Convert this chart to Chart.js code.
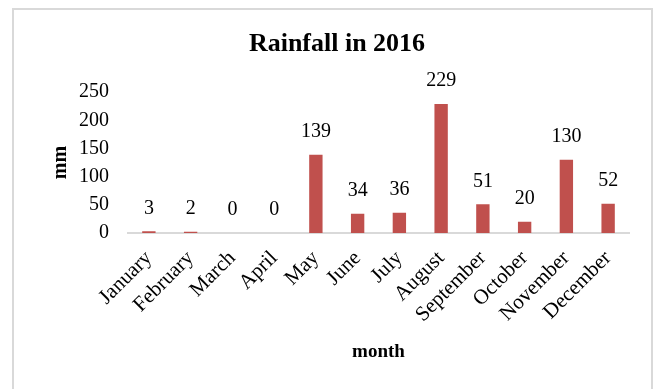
<!DOCTYPE html>
<html>
<head>
<meta charset="utf-8">
<title>Rainfall in 2016</title>
<script src="https://cdn.jsdelivr.net/npm/chart.js@4.4.1/dist/chart.umd.min.js"></script>
<style>
  html, body { margin: 0; padding: 0; background: #fff; overflow: hidden; }
  #wrap { position: relative; width: 661px; height: 389px; }
  #frame {
    position: absolute; left: 12px; top: 8px; width: 641px; height: 400px;
    border: 2px solid #d9d9d9; box-sizing: border-box;
  }
  #grafico { position: absolute; left: 0; top: 0; }
</style>
</head>
<body>
<div id="wrap">
  <div id="frame"></div>
  <canvas id="grafico" width="661" height="389"></canvas>
</div>
<script>
// Datos de lluvia mensual (mm)
const meses = ['January', 'February', 'March', 'April', 'May', 'June', 'July',
  'August', 'September', 'October', 'November', 'December'];
const lluvia = [3, 2, 0, 0, 139, 34, 36, 229, 51, 20, 130, 52];
const ticksY = [0, 50, 100, 150, 200, 250];

const FUENTE = '"Liberation Serif", "Times New Roman", serif';

// Etiqueta de valor encima de cada barra
const etiquetasValor = {
  id: 'etiquetasValor',
  afterDatasetsDraw(chart) {
    const ctx = chart.ctx;
    const meta = chart.getDatasetMeta(0);
    ctx.save();
    ctx.font = '20px ' + FUENTE;
    ctx.fillStyle = '#000';
    ctx.textAlign = 'center';
    ctx.textBaseline = 'middle';
    meta.data.forEach((bar, i) => {
      ctx.fillText(String(lluvia[i]), bar.x, bar.y - 23);
    });
    ctx.restore();
  }
};

new Chart(document.getElementById('grafico'), {
  type: 'bar',
  data: {
    labels: meses,
    datasets: [{
      data: lluvia,
      backgroundColor: '#C0504D',
      barPercentage: 0.32,
      categoryPercentage: 1
    }]
  },
  options: {
    responsive: false,
    animation: false,
    layout: { padding: { left: 45, right: 32, top: 14, bottom: 22 } },
    plugins: {
      legend: { display: false },
      tooltip: { enabled: false },
      title: {
        display: true,
        text: 'Rainfall in 2016',
        color: '#000',
        font: { family: FUENTE, size: 26, weight: 'bold' },
        padding: { top: 15, bottom: 32 }
      }
    },
    scales: {
      x: {
        grid: { display: false },
        border: { display: true, color: '#d9d9d9', width: 2 },
        ticks: {
          color: '#000',
          font: { family: FUENTE, size: 21 },
          minRotation: 45,
          maxRotation: 45,
          padding: 5,
          autoSkip: false
        },
        title: {
          display: true,
          text: 'month',
          color: '#000',
          font: { family: FUENTE, size: 19, weight: 'bold' }
        },
        afterFit(scale) { scale.height = 134; }
      },
      y: {
        min: 0,
        max: 250,
        grid: { display: false },
        border: { display: false },
        afterBuildTicks(scale) { scale.ticks = ticksY.map(v => ({ value: v })); },
        ticks: {
          color: '#000',
          font: { family: FUENTE, size: 20 },
          padding: 11
        },
        title: {
          display: true,
          text: 'mm',
          color: '#000',
          font: { family: FUENTE, size: 20, weight: 'bold' }
        },
        afterFit(scale) { scale.width = 83; }
      }
    }
  },
  plugins: [etiquetasValor]
});
</script>
</body>
</html>
